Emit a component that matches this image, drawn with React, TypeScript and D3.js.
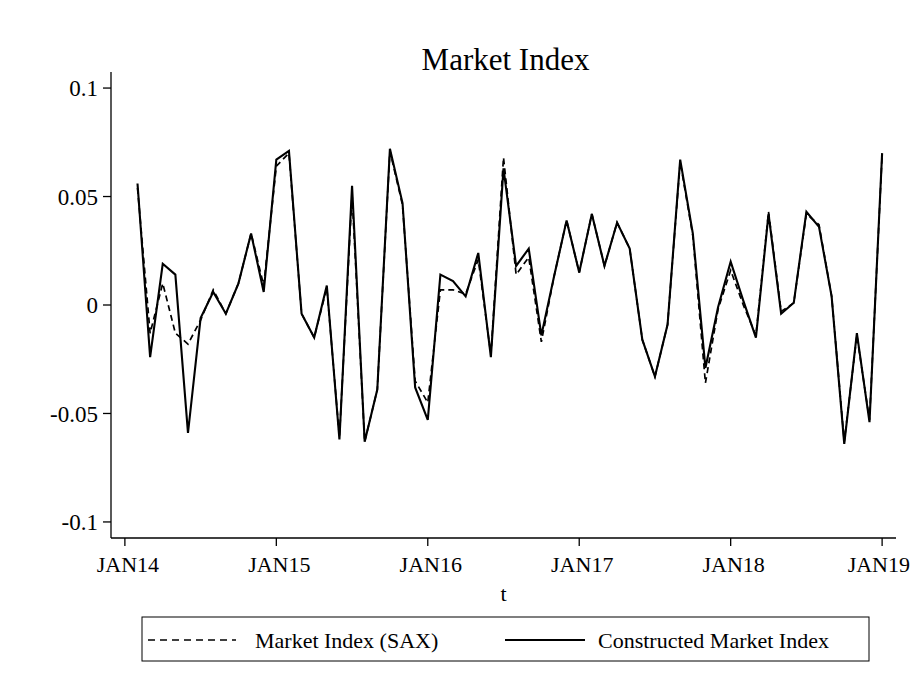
import React from "react";
import * as d3 from "d3";

const START_LABEL = "FEB14";
const xTickLabels = ["JAN14", "JAN15", "JAN16", "JAN17", "JAN18", "JAN19"];
const xTickMonths = [0, 12, 24, 36, 48, 60];
const yTicks = [-0.1, -0.05, 0, 0.05, 0.1];
const yTickLabels = ["-0.1", "-0.05", "0", "0.05", "0.1"];

// monthly values, FEB14 .. JAN19
const constructed = [
  0.056, -0.024, 0.019, 0.014, -0.059, -0.006, 0.006, -0.004, 0.010, 0.033, 0.006,
  0.067, 0.071, -0.004, -0.015, 0.009, -0.062, 0.055, -0.063, -0.039, 0.072, 0.047, -0.038,
  -0.053, 0.014, 0.011, 0.004, 0.024, -0.024, 0.063, 0.018, 0.026, -0.014, 0.013, 0.039,
  0.015, 0.042, 0.018, 0.038, 0.026, -0.016, -0.033, -0.009, 0.067, 0.033, -0.029, -0.001,
  0.020, 0.002, -0.015, 0.042, -0.004, 0.001, 0.043, 0.036, 0.004, -0.064, -0.013, -0.054,
  0.070,
];
const sax = [
  0.054, -0.013, 0.010, -0.013, -0.018, -0.007, 0.007, -0.004, 0.010, 0.033, 0.009,
  0.064, 0.070, -0.004, -0.015, 0.008, -0.061, 0.051, -0.063, -0.039, 0.071, 0.046, -0.035,
  -0.045, 0.007, 0.007, 0.005, 0.021, -0.023, 0.068, 0.014, 0.022, -0.017, 0.013, 0.039,
  0.015, 0.042, 0.018, 0.038, 0.026, -0.016, -0.033, -0.009, 0.066, 0.032, -0.036, -0.002,
  0.016, 0.000, -0.014, 0.043, -0.003, 0.001, 0.042, 0.037, 0.004, -0.063, -0.014, -0.053,
  0.069,
];
const seriesNames = ["Market Index (SAX)", "Constructed Market Index"];

const W = 912;
const H = 688;
const FONT = "'Liberation Serif', 'Times New Roman', serif";

export default function App() {
  const x = d3.scaleLinear().domain([-1.1, 61.1]).range([111, 896]);
  const y = d3.scaleLinear().domain([-0.1074, 0.1074]).range([538, 72]);
  const line = d3
    .line<number>()
    .x((_, i) => x(i + 1))
    .y((d) => y(d));
  const [x0, x1] = x.range();
  const [yb, yt] = y.range();
  const cx = (x0 + x1) / 2;
  return (
    <svg
      width={W}
      height={H}
      style={{ position: "absolute", left: 0, top: 0, background: "#fff" }}
      fontFamily={FONT}
      data-start={START_LABEL}
    >
      <rect x={0} y={0} width={W} height={H} fill="#fff" />
      <text x={cx + 2} y={70} textAnchor="middle" fontSize={31} fill="#000">
        Market Index
      </text>
      {/* axes */}
      <line x1={x0} x2={x0} y1={yt} y2={yb} stroke="#000" strokeWidth={1.3} />
      <line x1={x0} x2={x1} y1={yb} y2={yb} stroke="#000" strokeWidth={1.3} />
      {yTicks.map((t, i) => (
        <g key={t}>
          <line x1={x0 - 8} x2={x0} y1={y(t)} y2={y(t)} stroke="#000" strokeWidth={1.3} />
          <text x={x0 - 13} y={y(t)} dy="0.35em" textAnchor="end" fontSize={23}>
            {yTickLabels[i]}
          </text>
        </g>
      ))}
      {xTickMonths.map((m, i) => {
        const last = i === xTickMonths.length - 1;
        return (
          <g key={m}>
            <line x1={x(m)} x2={x(m)} y1={yb} y2={yb + 8} stroke="#000" strokeWidth={1.3} />
            <text
              x={last ? W - 2 : x(m) + 3}
              y={572}
              textAnchor={last ? "end" : "middle"}
              fontSize={22}
            >
              {xTickLabels[i]}
            </text>
          </g>
        );
      })}
      <text x={cx} y={601} textAnchor="middle" fontSize={22}>
        t
      </text>
      {/* series */}
      <path d={line(sax) || ""} fill="none" stroke="#000" strokeWidth={1.7} strokeDasharray="6 4" />
      <path d={line(constructed) || ""} fill="none" stroke="#000" strokeWidth={2.1} strokeLinejoin="miter" />
      {/* legend */}
      <rect x={142} y={617} width={727} height={44} fill="none" stroke="#000" strokeWidth={1} />
      <line x1={148} x2={236} y1={640} y2={640} stroke="#000" strokeWidth={1.7} strokeDasharray="7 5" />
      <text x={255} y={648} fontSize={22}>
        {seriesNames[0]}
      </text>
      <line x1={505} x2={585} y1={640} y2={640} stroke="#000" strokeWidth={2.1} />
      <text x={598} y={648} fontSize={22}>
        {seriesNames[1]}
      </text>
    </svg>
  );
}
